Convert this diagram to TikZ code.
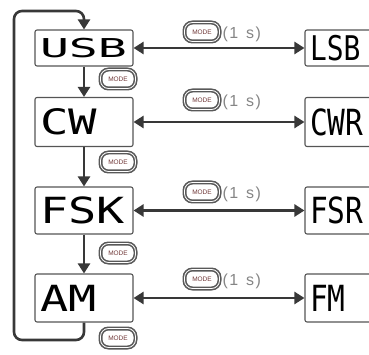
\documentclass[tikz,border=0pt]{standalone}
\usepackage{fontspec}
\usepackage{graphicx}
\usetikzlibrary{arrows.meta}
\setmainfont{Liberation Sans}
\newfontfamily\lcdfont{DejaVu Sans Mono}
\newcommand{\lcd}[3]{\scalebox{#2}[1]{\lcdfont\fontsize{#1}{#1}\selectfont #3}}
\definecolor{ln}{HTML}{383838}
\definecolor{bd}{HTML}{555555}
\definecolor{md}{HTML}{703838}
\definecolor{sg}{HTML}{858585}
\begin{document}
\begin{tikzpicture}[x=1pt,y=-1pt,
  lcdbox/.style={draw=bd, line width=1.1pt, rounded corners=2pt, minimum height=#1,
    text width=88pt, inner xsep=5pt, inner ysep=0pt, align=left},
  arr/.style={line width=2.6pt, draw=ln, -{Triangle[length=10pt,width=12pt]}},
  darr/.style={line width=2.6pt, draw=ln, {Triangle[length=10pt,width=12pt]}-{Triangle[length=10pt,width=12pt]}},
  modebtn/.style={draw=gray!70!black, line width=1.6pt, double=white, double distance=0.8pt,
    rounded corners=8pt, minimum width=35pt, minimum height=19pt, inner sep=0pt,
    font=\fontsize{6.5}{6.5}\selectfont, text=md},
  sec/.style={font=\fontsize{16}{16}\selectfont, text=sg, inner sep=0pt}]
\useasboundingbox (0,0) rectangle (369,355);
\clip (0,0) rectangle (369,355);
% left boxes
\node[lcdbox=36pt] (usb) at (84,48) {\lcd{26}{1.85}{USB}};
\node[lcdbox=49pt] (cw)  at (84,122) {\lcd{35}{1.35}{CW}};
\node[lcdbox=47pt] (fsk) at (84,210.5) {\lcd{36}{1.3}{FSK}};
\node[lcdbox=48pt] (am)  at (84,298) {\lcd{36}{1.3}{AM}};
% right boxes
\node[lcdbox=36pt] (lsb) at (354,48) {\lcd{34}{0.82}{LSB}};
\node[lcdbox=49pt] (cwr) at (354,122) {\lcd{36}{0.82}{CWR}};
\node[lcdbox=47pt] (fsr) at (354,210.5) {\lcd{36}{0.82}{FSR}};
\node[lcdbox=48pt] (fm)  at (354,298) {\lcd{36}{0.82}{FM}};
% vertical arrows
\draw[arr] (usb) -- (cw);
\draw[arr] (cw) -- (fsk);
\draw[arr] (fsk) -- (am);
\coordinate (lb) at (14,340);
\coordinate (lt) at (14,11);
\draw[arr, rounded corners=8pt] (am.south) |- (lb) -- (lt) -| (usb.north);
% horizontal arrows
\draw[darr] (usb) -- (lsb);
\draw[darr] (cw) -- (cwr);
\draw[darr] (fsk) -- (fsr);
\draw[darr] (am) -- (fm);
% mode buttons
\node[modebtn] (m1) at (118,79) {MODE};
\node[modebtn] (m2) at (118,162) {MODE};
\node[modebtn] (m3) at (118,253) {MODE};
\node[modebtn] (m4) at (118,338) {MODE};
\node[modebtn] (h1) at (202,32) {MODE};
\node[modebtn] (h2) at (202,100) {MODE};
\node[modebtn] (h3) at (202,192) {MODE};
\node[modebtn] (h4) at (202,279) {MODE};
\node[sec, anchor=west] (s1) at ([xshift=2pt,yshift=-2pt]h1.east) {(\hspace{1.5pt}1\hspace{8pt}s\hspace{1.5pt})};
\node[sec, anchor=west] (s2) at ([xshift=2pt,yshift=-2pt]h2.east) {(\hspace{1.5pt}1\hspace{8pt}s\hspace{1.5pt})};
\node[sec, anchor=west] (s3) at ([xshift=2pt,yshift=-2pt]h3.east) {(\hspace{1.5pt}1\hspace{8pt}s\hspace{1.5pt})};
\node[sec, anchor=west] (s4) at ([xshift=2pt,yshift=-2pt]h4.east) {(\hspace{1.5pt}1\hspace{8pt}s\hspace{1.5pt})};
\end{tikzpicture}
\end{document}
